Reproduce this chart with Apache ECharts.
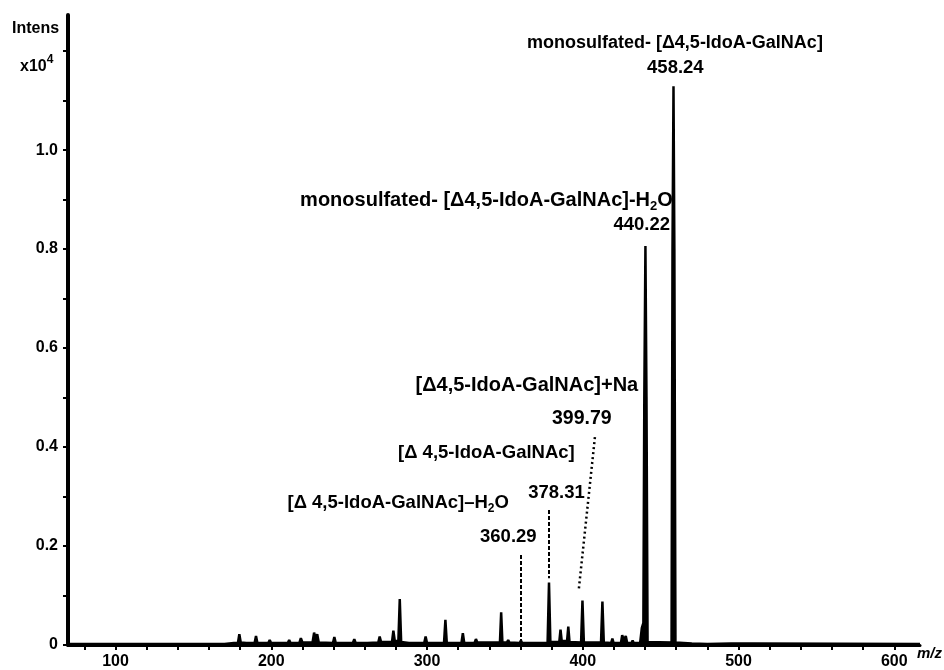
<!DOCTYPE html>
<html>
<head>
<meta charset="utf-8">
<script src="https://cdn.jsdelivr.net/npm/echarts@6/dist/echarts.min.js"></script>
<style>
  html, body { margin: 0; padding: 0; background: #fff; }
  #chart { width: 944px; height: 670px; }
</style>
</head>
<body>
<div id="chart"></div>
<script>
// ---- data ----
// profile trace: m/z positions and intensities (x10^4)
var traceMz = [
  69.5, 170, 176,
  178.6, 179.5, 180.4, 184,
  189.3, 190.2, 191.1,
  198.1, 199, 199.9,
  203.2, 204, 204.8,
  210.6, 211.5, 212.4,
  218, 219, 220,
  226.5, 227.5, 228.5, 229.5, 230.5,
  239.6, 240.5, 241.4,
  245.3, 246, 246.7,
  252.4, 253.3, 254.2,
  260.2, 261, 261.8,
  268.7, 269.6, 270.5,
  273.3, 274, 274.7,
  277.5, 278.4, 279.3, 281.6, 282.5, 283.4,
  288.4, 289.2, 290,
  298.2, 299.1, 300,
  303.3, 304, 304.7,
  310.9, 311.8, 312.7,
  322.1, 323, 323.9,
  330.5, 331.4, 332.3,
  336.3, 337, 337.7,
  340.3, 341, 341.7,
  346.8, 347.6, 348.4,
  351.3, 352.1, 352.9,
  359.5, 360.29, 361.1,
  366.3, 367, 367.7,
  371.3, 372, 372.7,
  377.4, 378.31, 379.2,
  381.3, 382, 382.7,
  384.9, 385.7, 386.5,
  389.9, 390.7, 391.5,
  398.9, 399.79, 400.7,
  403.3, 404, 404.7,
  411.7, 412.6, 413.5,
  418.2, 419, 419.8,
  424.5, 425.3, 426.4, 427.6, 428.5,
  431.3, 432, 432.7,
  436.8, 437.9, 438.9, 439.5, 440.22, 440.9, 441.6,
  457.0, 457.6, 458.24, 458.8, 459.5,
  470, 480,
  495.3, 496, 496.7,
  507.3, 508, 508.7,
  616.5
];
var traceIntensity = [
  0.002, 0.002, 0.004,
  0.004, 0.022, 0.005, 0.004,
  0.004, 0.018, 0.004,
  0.004, 0.010, 0.004,
  0.004, 0.007, 0.004,
  0.004, 0.010, 0.004,
  0.004, 0.014, 0.005,
  0.005, 0.025, 0.012, 0.022, 0.005,
  0.004, 0.016, 0.004,
  0.004, 0.007, 0.004,
  0.004, 0.012, 0.004,
  0.004, 0.008, 0.004,
  0.005, 0.017, 0.006,
  0.006, 0.010, 0.006,
  0.006, 0.029, 0.008, 0.008, 0.093, 0.006,
  0.004, 0.008, 0.004,
  0.004, 0.017, 0.004,
  0.004, 0.007, 0.004,
  0.004, 0.051, 0.004,
  0.004, 0.024, 0.004,
  0.004, 0.012, 0.005,
  0.005, 0.008, 0.005,
  0.005, 0.007, 0.005,
  0.005, 0.066, 0.005,
  0.005, 0.010, 0.005,
  0.004, 0.009, 0.004,
  0.004, 0.005, 0.004,
  0.004, 0.006, 0.004,
  0.004, 0.126, 0.006,
  0.006, 0.008, 0.006,
  0.006, 0.031, 0.008,
  0.008, 0.037, 0.006,
  0.005, 0.090, 0.005,
  0.005, 0.006, 0.005,
  0.005, 0.088, 0.005,
  0.004, 0.013, 0.004,
  0.004, 0.020, 0.010, 0.018, 0.004,
  0.004, 0.009, 0.004,
  0.004, 0.034, 0.045, 0.50, 0.806, 0.50, 0.006,
  0.005, 0.80, 1.129, 0.80, 0.005,
  0.003, 0.002,
  0.003, 0.007, 0.003,
  0.003, 0.004, 0.003,
  0.002
];
// labelled peaks
var labelMz = [458.24, 440.22, 399.79, 378.31, 360.29];
var labelValueText = ['458.24', '440.22', '399.79', '378.31', '360.29'];
var labelNameText = [
  'monosulfated- [Δ4,5-IdoA-GalNAc]',
  'monosulfated- [Δ4,5-IdoA-GalNAc]-H',
  '[Δ4,5-IdoA-GalNAc]+Na',
  '[Δ 4,5-IdoA-GalNAc]',
  '[Δ 4,5-IdoA-GalNAc]–H'
];
// axis ticks / labels
var xLabelValues = [100, 200, 300, 400, 500, 600];
var xTickValues = [80, 100, 120, 140, 160, 180, 200, 220, 240, 260, 280, 300, 320, 340, 360, 380, 400, 420, 440, 460, 480, 500, 520, 540, 560, 580, 600];
var yLabelValues = [0, 0.2, 0.4, 0.6, 0.8, 1.0];
var yTickValues = [0, 0.1, 0.2, 0.3, 0.4, 0.5, 0.6, 0.7, 0.8, 0.9, 1.0, 1.1, 1.2];

// ---- build chart ----
var FONT = '"Liberation Sans", Arial, sans-serif';
var trace = traceMz.map(function (m, i) { return [m, traceIntensity[i]]; });

function txt(size) {
  return { fontSize: size, fontWeight: 'bold', fontFamily: FONT, color: '#000' };
}
function mp(coord, text, size, align, rich) {
  var lab = {
    show: true, position: 'inside', formatter: text,
    fontSize: size, fontWeight: 'bold', fontFamily: FONT, color: '#000',
    align: align || 'center', verticalAlign: 'middle'
  };
  if (rich) lab.rich = rich;
  return { coord: coord, symbol: 'circle', symbolSize: 0, itemStyle: { color: 'transparent' }, label: lab };
}
function h2oRich(size) {
  return {
    t: txt(size),
    s: { fontSize: Math.round(size * 0.65), fontWeight: 'bold', fontFamily: FONT, color: '#000', padding: [Math.round(size * 0.6), 0, 0, 0] }
  };
}

var option = {
  animation: false,
  backgroundColor: '#fff',
  grid: { left: 68, right: 24, top: 15, bottom: 25, containLabel: false, outerBoundsMode: 'none' },
  xAxis: {
    type: 'value', min: 69.5, max: 616.5,
    name: 'm/z', nameLocation: 'end', nameGap: -3,
    nameTextStyle: { fontSize: 15, fontStyle: 'italic', fontWeight: 'bold', fontFamily: FONT, color: '#000', align: 'left', verticalAlign: 'top', padding: [1, 0, 0, 0] },
    axisLine: { onZero: false, lineStyle: { color: '#000', width: 3 } },
    axisTick: { show: true, customValues: xTickValues, length: 5, lineStyle: { color: '#000', width: 2 } },
    axisLabel: { customValues: xLabelValues, margin: 9, fontSize: 16, fontWeight: 'bold', fontFamily: FONT, color: '#000' },
    splitLine: { show: false }
  },
  yAxis: {
    type: 'value', min: 0, max: 1.273,
    axisLine: { show: true, lineStyle: { color: '#000', width: 4 } },
    axisTick: { show: true, customValues: yTickValues, length: 5, lineStyle: { color: '#000', width: 2 } },
    axisLabel: {
      customValues: yLabelValues, margin: 10, fontSize: 16, fontWeight: 'bold', fontFamily: FONT, color: '#000',
      formatter: function (v) { return v === 0 ? '0' : v.toFixed(1); }
    },
    splitLine: { show: false }
  },
  graphic: [
    { type: 'text', left: 12, top: 21, style: { text: 'Intens', font: 'bold 16px "Liberation Sans", Arial, sans-serif', fill: '#000' } },
    { type: 'text', left: 20, top: 54, style: {
        text: '{a|x10}{b|4}', fill: '#000',
        rich: {
          a: { fontSize: 16, fontWeight: 'bold', fontFamily: FONT, fill: '#000', padding: [8, 0, 0, 0] },
          b: { fontSize: 12, fontWeight: 'bold', fontFamily: FONT, fill: '#000', padding: [0, 0, 6, 0] }
        }
    } }
  ],
  series: [{
    type: 'line',
    data: trace,
    symbol: 'none',
    lineStyle: { color: '#000', width: 2.5 },
    areaStyle: { color: '#000', opacity: 1 },
    silent: true,
    markLine: {
      silent: true, symbol: 'none', label: { show: false },
      data: [
        [{ coord: [labelMz[4], 0.182] }, { coord: [labelMz[4], 0.0] }],
        [{ coord: [labelMz[3], 0.273] }, { coord: [labelMz[3], 0.135] }],
        [{ coord: [labelMz[2] + 8, 0.42], lineStyle: { type: [2, 3], width: 2.5 } }, { coord: [labelMz[2] - 2.4, 0.111] }]
      ],
      lineStyle: { color: '#000', type: [4, 2], width: 2 }
    },
    markPoint: {
      silent: true,
      data: [
        mp([labelMz[0] + 0.9, 1.216], labelNameText[0], 18),
        mp([labelMz[0] + 1.2, 1.166], labelValueText[0], 18.5),
        mp([labelMz[1] + 17.6, 0.899], '{t|' + labelNameText[1] + '}{s|2}{t|O}', 20, 'right', h2oRich(20)),
        mp([labelMz[1] + 15.8, 0.848], labelValueText[1], 18.5, 'right'),
        mp([labelMz[2] - 35.7, 0.525], labelNameText[2], 20),
        mp([labelMz[2] - 0.4, 0.457], labelValueText[2], 19.5),
        mp([labelMz[3] - 40.2, 0.388], labelNameText[3], 18.5),
        mp([labelMz[3] + 4.8, 0.307], labelValueText[3], 18.5),
        mp([labelMz[4] - 78.8, 0.287], '{t|' + labelNameText[4] + '}{s|2}{t|O}', 18.5, 'center', h2oRich(18.5)),
        mp([labelMz[4] - 8.1, 0.218], labelValueText[4], 18.5)
      ]
    }
  }]
};

var chart = echarts.init(document.getElementById('chart'), null, { renderer: 'canvas' });
chart.setOption(option);
</script>
</body>
</html>
